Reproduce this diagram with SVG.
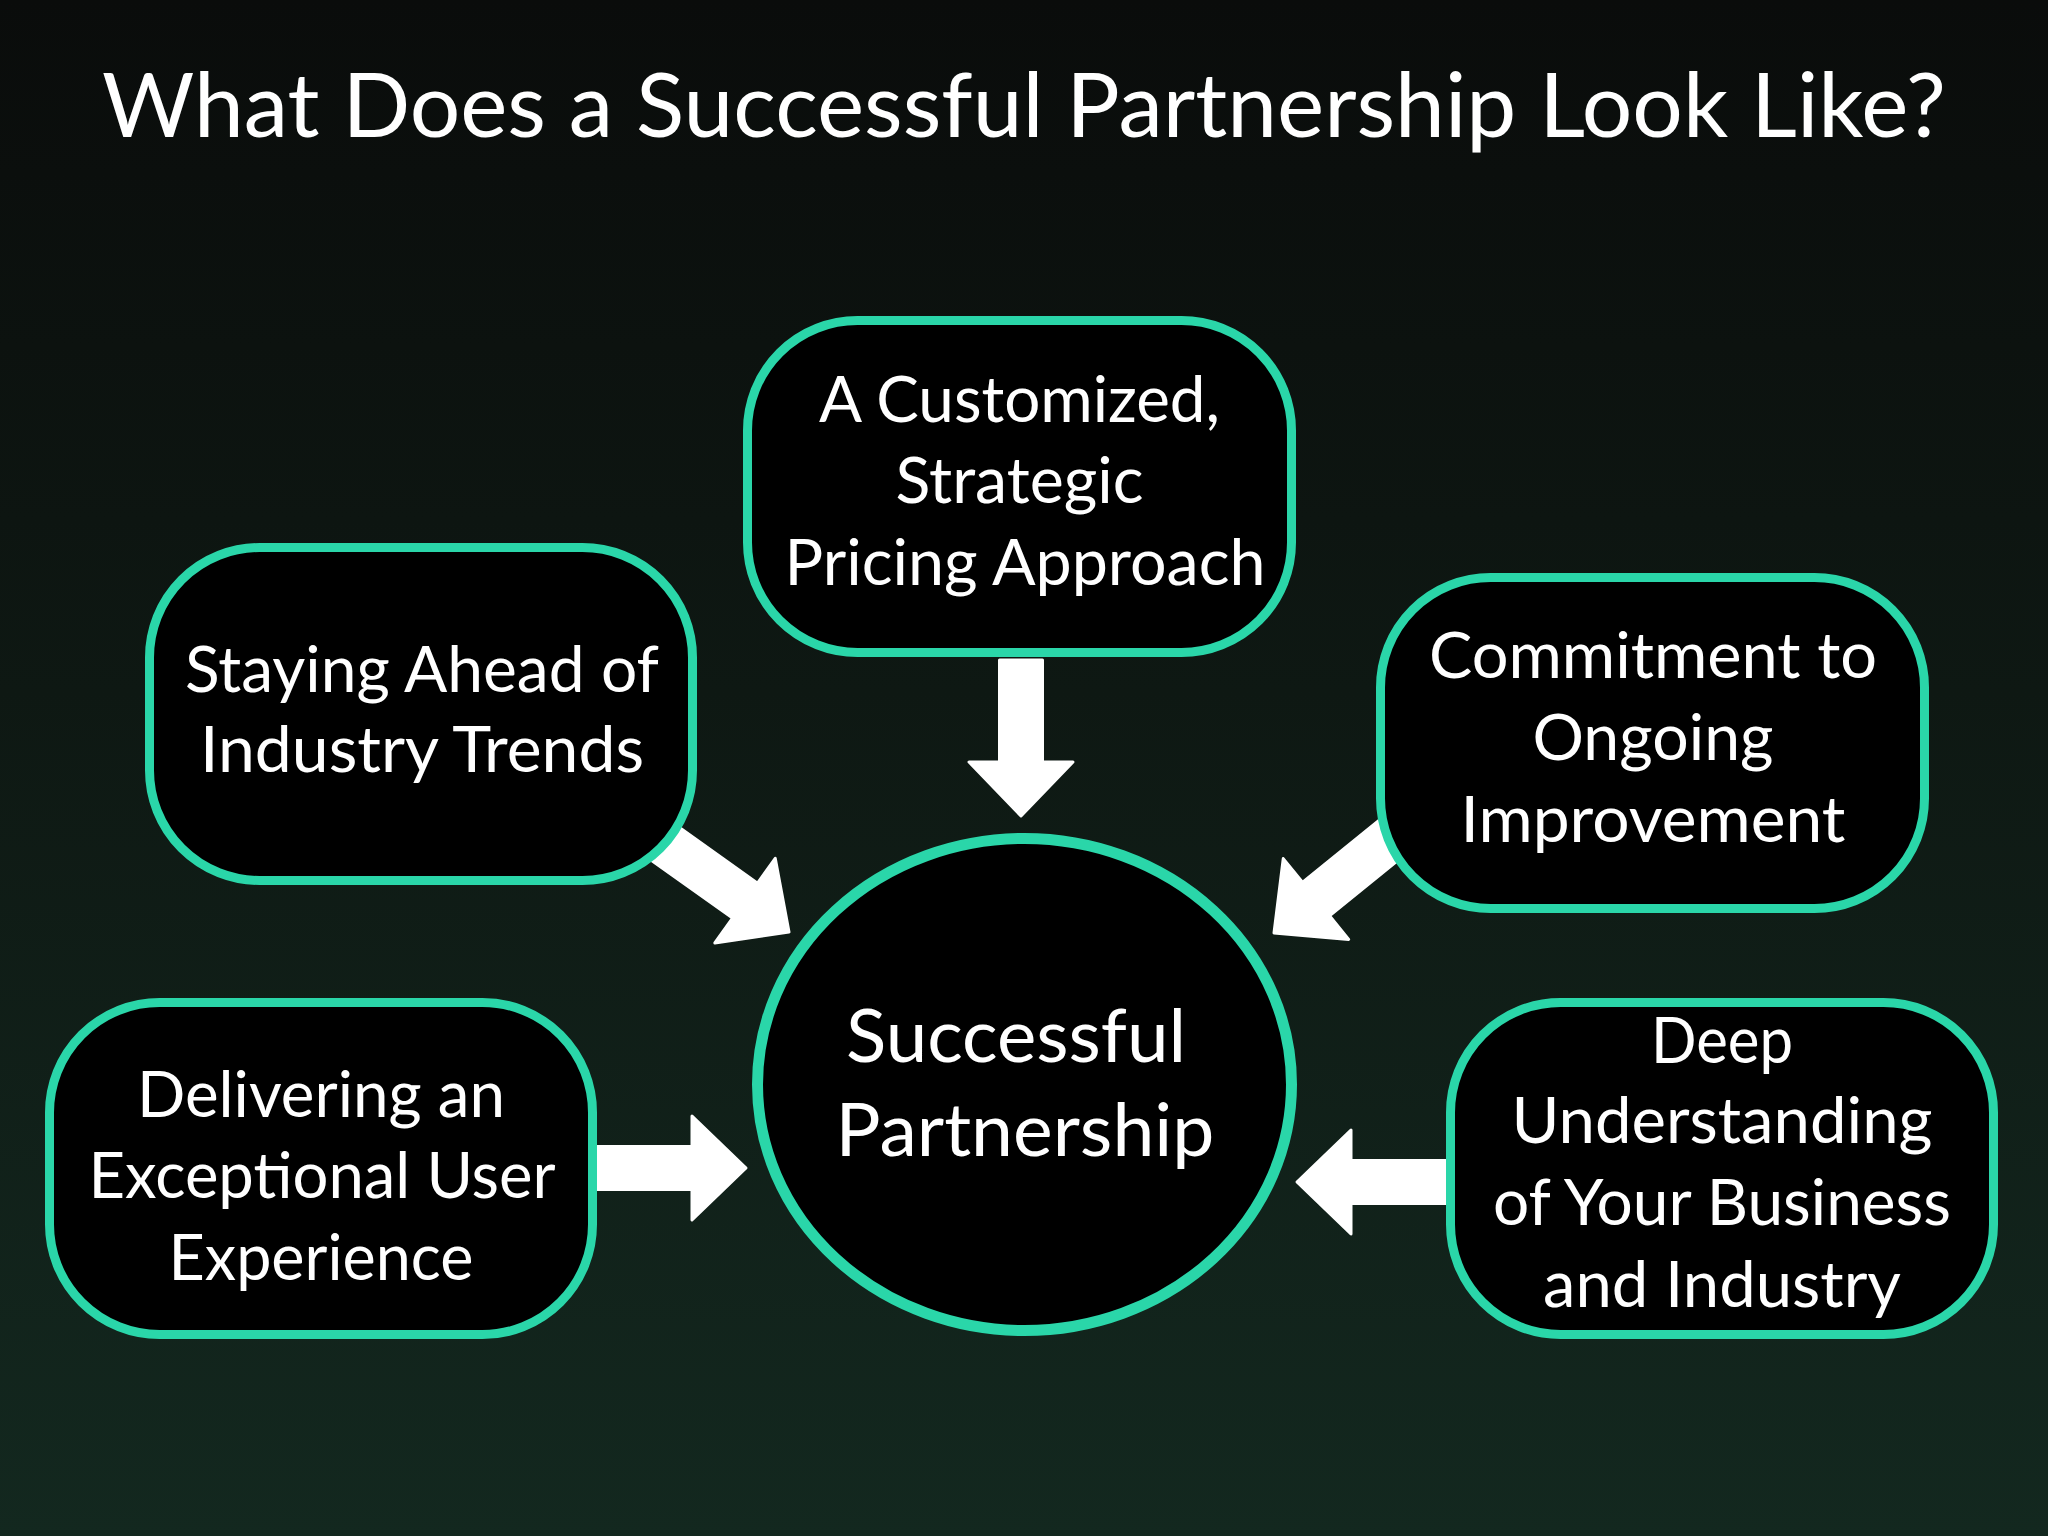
<svg xmlns="http://www.w3.org/2000/svg" width="2048" height="1536" viewBox="0 0 2048 1536">
  <defs>
    <linearGradient id="bg" x1="0" y1="0" x2="0" y2="1">
      <stop offset="0" stop-color="#0a0c0b"/>
      <stop offset="0.45" stop-color="#0e1813"/>
      <stop offset="1" stop-color="#13281f"/>
    </linearGradient>
    <path id="arrow" d="M -156,-21.5 L -54,-21.5 L -54,-52 L 0,0 L -54,52 L -54,21.5 L -156,21.5 Z"/>
  </defs>
  <style>
    .box { fill: #000000; stroke: #2ad6a9; stroke-width: 9; }
    .hub { fill: #000000; stroke: #2ad6a9; stroke-width: 11; }
    .lbl { fill: #ffffff; font-family: "Source Sans Pro", Lato, "Noto Sans", sans-serif; font-size: 64px; text-anchor: middle; }
    .hubl { font-size: 74px; }
    .title { fill: #ffffff; font-family: "Source Sans Pro", Lato, "Noto Sans", sans-serif; font-size: 90px; text-anchor: middle; }
    .arr { fill: #ffffff; stroke: #ffffff; stroke-width: 3; stroke-linejoin: round; }
  </style>
  <rect x="0" y="0" width="2048" height="1536" fill="url(#bg)"/>
  <text class="title" x="1024" y="137" textLength="1844" lengthAdjust="spacingAndGlyphs">What Does a Successful Partnership Look Like?</text>

  <g id="connectors">
    <use href="#arrow" class="arr" transform="translate(1021,816) rotate(90)"/>
    <use href="#arrow" class="arr" transform="translate(789,932) rotate(35.5)"/>
    <use href="#arrow" class="arr" transform="translate(1274,933) rotate(141)"/>
    <use href="#arrow" class="arr" transform="translate(746,1168)"/>
    <use href="#arrow" class="arr" transform="translate(1297,1182) rotate(180)"/>
  </g>

  <g id="node-pricing">
    <rect class="box" x="747.5" y="320.5" width="544" height="332" rx="110" ry="110"/>
    <text class="lbl" x="1019.5" y="422" textLength="401" lengthAdjust="spacingAndGlyphs">A Customized,</text>
    <text class="lbl" x="1019.5" y="503" textLength="248" lengthAdjust="spacingAndGlyphs">Strategic</text>
    <text class="lbl" x="1025" y="585" textLength="481" lengthAdjust="spacingAndGlyphs">Pricing Approach</text>
  </g>

  <g id="node-trends">
    <rect class="box" x="149.5" y="547.5" width="543" height="333" rx="110" ry="110"/>
    <text class="lbl" x="422" y="692" textLength="474" lengthAdjust="spacingAndGlyphs">Staying Ahead of</text>
    <text class="lbl" x="422" y="772" textLength="444" lengthAdjust="spacingAndGlyphs">Industry Trends</text>
  </g>

  <g id="node-improvement">
    <rect class="box" x="1380.5" y="577.5" width="544" height="331" rx="110" ry="110"/>
    <text class="lbl" x="1653" y="678" textLength="448" lengthAdjust="spacingAndGlyphs">Commitment to</text>
    <text class="lbl" x="1653" y="760" textLength="241" lengthAdjust="spacingAndGlyphs">Ongoing</text>
    <text class="lbl" x="1653" y="842" textLength="385" lengthAdjust="spacingAndGlyphs">Improvement</text>
  </g>

  <g id="node-experience">
    <rect class="box" x="49.5" y="1002.5" width="543" height="332" rx="110" ry="110"/>
    <text class="lbl" x="321" y="1117" textLength="368" lengthAdjust="spacingAndGlyphs">Delivering an</text>
    <text class="lbl" x="322" y="1198" textLength="467" lengthAdjust="spacingAndGlyphs">Exceptional User</text>
    <text class="lbl" x="321" y="1280" textLength="305" lengthAdjust="spacingAndGlyphs">Experience</text>
  </g>

  <g id="node-understanding">
    <rect class="box" x="1450.5" y="1002.5" width="543" height="332" rx="110" ry="110"/>
    <text class="lbl" x="1722" y="1063" textLength="142" lengthAdjust="spacingAndGlyphs">Deep</text>
    <text class="lbl" x="1722" y="1143" textLength="421" lengthAdjust="spacingAndGlyphs">Understanding</text>
    <text class="lbl" x="1722" y="1225" textLength="458" lengthAdjust="spacingAndGlyphs">of Your Business</text>
    <text class="lbl" x="1722" y="1307" textLength="358" lengthAdjust="spacingAndGlyphs">and Industry</text>
  </g>

  <g id="node-center">
    <ellipse class="hub" cx="1024.5" cy="1084.5" rx="267" ry="246"/>
    <text class="lbl hubl" x="1016" y="1062" textLength="340" lengthAdjust="spacingAndGlyphs">Successful</text>
    <text class="lbl hubl" x="1025" y="1156" textLength="379" lengthAdjust="spacingAndGlyphs">Partnership</text>
  </g>
</svg>
